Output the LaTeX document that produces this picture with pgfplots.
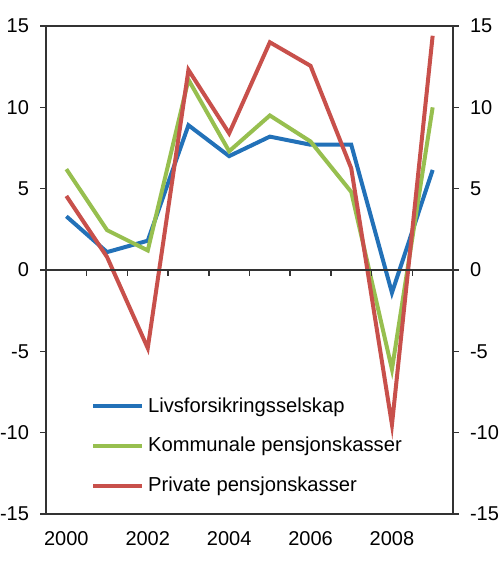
\documentclass[border=0pt]{standalone}
\usepackage{fontspec}
\setmainfont{Liberation Sans}
\usepackage{pgfplots}
\pgfplotsset{compat=1.18}

\definecolor{livblue}{HTML}{2271B8}
\definecolor{komgreen}{HTML}{97BF4F}
\definecolor{privred}{HTML}{C8504B}
\definecolor{axisgray}{HTML}{333333}

\begin{document}
\begin{tikzpicture}
\pgfplotsset{
  base/.style={
    width=203.5pt, height=244pt, scale only axis,
    xmin=1999.5, xmax=2009.5, ymin=-15, ymax=15,
    ytick={-15,-10,...,15},
    tick align=outside,
    axis line style={line width=0.75pt, color=axisgray},
    tick style={line width=0.75pt, color=axisgray},
    major tick length=3pt,
    ticklabel style={font=\fontsize{10}{12}\selectfont},
    /pgf/number format/assume math mode=true,
    /pgf/number format/1000 sep={},
  }
}
\begin{axis}[base,
  xtick={2000,2002,...,2008},
  x tick style={draw=none},
  ytick pos=left,
  yticklabel style={xshift=-2pt},
  xticklabel style={yshift=-2pt},
  legend cell align=left,
  legend image code/.code={\draw[#1] (0pt,0pt) -- (24.5pt,0pt);},
  legend style={draw=none, fill=none, font=\fontsize{10.1}{12}\selectfont,
    at={(rel axis cs:0.095,0.256)}, anchor=north west, row sep=7pt},
]
% Livsforsikringsselskap
\addplot[livblue, line width=2pt] coordinates {
  (2000,3.3) (2001,1.1) (2002,1.8) (2003,8.9) (2004,7.0)
  (2005,8.2) (2006,7.7) (2007,7.7) (2008,-1.4) (2009,6.15)};
% Kommunale pensjonskasser
\addplot[komgreen, line width=2pt] coordinates {
  (2000,6.2) (2001,2.45) (2002,1.2) (2003,11.7) (2004,7.3)
  (2005,9.5) (2006,7.9) (2007,4.8) (2008,-6.1) (2009,10.0)};
% Private pensjonskasser
\addplot[privred, line width=2pt] coordinates {
  (2000,4.55) (2001,0.8) (2002,-4.8) (2003,12.3) (2004,8.4)
  (2005,14.0) (2006,12.55) (2007,6.25) (2008,-9.5) (2009,14.4)};
\legend{Livsforsikringsselskap, Kommunale pensjonskasser, Private pensjonskasser}
\coordinate (bl) at (rel axis cs:0,0);
\coordinate (tr) at (rel axis cs:1,1);
\end{axis}
\begin{axis}[base,
  axis x line*=middle, axis y line*=right,
  xtick={1999.5,2000.5,...,2009.5}, xticklabels={},
  hide obscured x ticks=false,
  xtick align=outside,
  yticklabel style={xshift=2pt},
]
\end{axis}
\pgfresetboundingbox
\path ([shift={(-23pt,-26.5pt)}]bl) rectangle ([shift={(23.5pt,13pt)}]tr);
\end{tikzpicture}
\end{document}
